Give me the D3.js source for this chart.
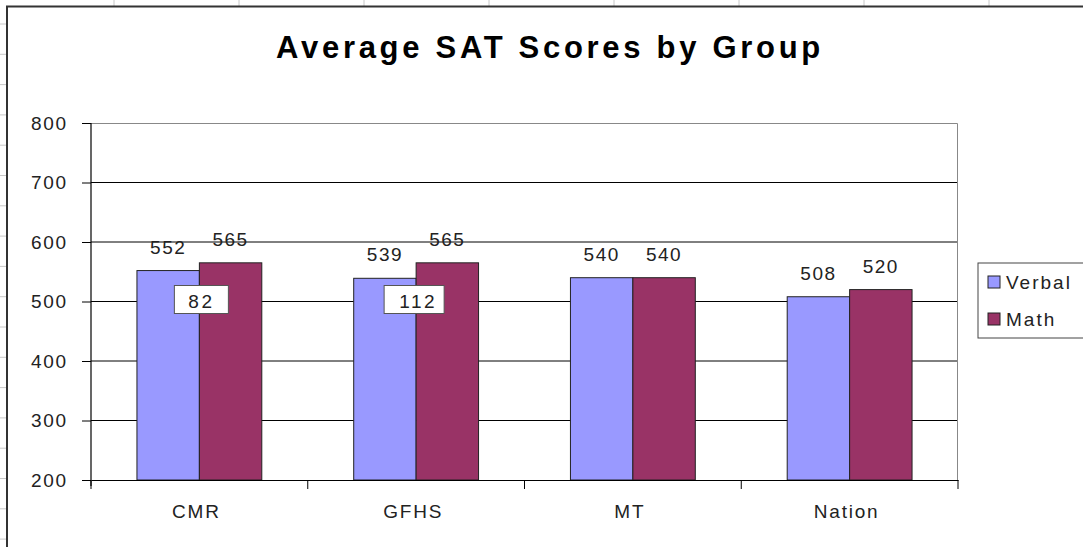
<!DOCTYPE html>
<html>
<head>
<meta charset="utf-8">
<script src="https://cdn.jsdelivr.net/npm/d3@7"></script>
<style>
  body { margin: 0; background: #fff; }
  text { font-family: "Liberation Sans", Arial, sans-serif; }
</style>
</head>
<body>
<div id="chart"></div>
<script>
// data
let groups = ["CMR", "GFHS", "MT", "Nation"];
let series = ["Verbal", "Math"];
let verbal = [552, 539, 540, 508];
let math = [565, 565, 540, 520];
let counts = [82, 112, null, null];   // the little boxed numbers
let yTicks = [200, 300, 400, 500, 600, 700, 800];
let colors = ["#9999ff", "#993366"];

let W = 1083, H = 547;
let margin = {top: 123, left: 91, right: 1083 - 958, bottom: 547 - 480};
let width = W - margin.left - margin.right;
let height = H - margin.top - margin.bottom;

let svg = d3.select("#chart")
    .append("svg")
    .attr("width", W)
    .attr("height", H);

// spreadsheet grid peeking out behind the chart
let bg = svg.append("g");
bg.selectAll(".vcell")
    .data(d3.range(114, W, 125))
    .enter().append("line")
    .attr("x1", d => d).attr("x2", d => d)
    .attr("y1", 0).attr("y2", 7)
    .attr("stroke", "#c8c8c8");
bg.selectAll(".hcell")
    .data(d3.range(24, H, 30.3))
    .enter().append("line")
    .attr("x1", 0).attr("x2", 7)
    .attr("y1", d => d).attr("y2", d => d)
    .attr("stroke", "#c8c8c8");

// chart frame
svg.append("path")
    .attr("d", "M7," + H + "V6.5H" + W)
    .attr("fill", "none")
    .attr("stroke", "#333")
    .attr("stroke-width", 2);

svg.append("text")
    .attr("x", 550)
    .attr("y", 58)
    .attr("text-anchor", "middle")
    .style("font-size", "31px")
    .style("font-weight", "bold")
    .style("letter-spacing", "3.7px")
    .text("Average SAT Scores by Group");

let g = svg.append("g")
    .attr("transform", "translate(" + margin.left + "," + margin.top + ")");

let x0 = d3.scaleBand()
    .domain(groups)
    .range([0, width])
    .paddingInner(0.424)
    .paddingOuter(0.212);
let x1 = d3.scaleBand()
    .domain(series)
    .range([0, x0.bandwidth()]);
let y = d3.scaleLinear()
    .domain([200, 800])
    .range([height, 0]);

// gridlines
g.selectAll(".grid")
    .data(yTicks.slice(1, -1))
    .enter().append("line")
    .attr("x1", 0).attr("x2", width)
    .attr("y1", d => y(d)).attr("y2", d => y(d))
    .attr("stroke", "#000");

// plot border (top and right in gray)
g.append("path")
    .attr("d", "M0,0.5H" + (width - 0.5) + "V" + height)
    .attr("fill", "none")
    .attr("stroke", "#888");

let rows = groups.map((grp, i) => ({group: grp, vals: [verbal[i], math[i]], count: counts[i]}));

let grp = g.selectAll(".grp")
    .data(rows)
    .enter().append("g")
    .attr("transform", d => "translate(" + x0(d.group) + ",0)");

grp.selectAll("rect")
    .data(d => d.vals.map((v, j) => ({key: series[j], v: v, j: j})))
    .enter().append("rect")
    .attr("x", d => x1(d.key))
    .attr("y", d => y(d.v))
    .attr("width", x1.bandwidth())
    .attr("height", d => height - y(d.v))
    .attr("fill", d => colors[d.j])
    .attr("stroke", "#222")
    .attr("stroke-width", 1);

grp.selectAll(".val")
    .data(d => d.vals.map((v, j) => ({key: series[j], v: v})))
    .enter().append("text")
    .attr("x", d => x1(d.key) + x1.bandwidth() / 2)
    .attr("y", d => y(d.v) - 17)
    .attr("text-anchor", "middle")
    .attr("fill", "#222")
    .style("font-size", "19px")
    .style("letter-spacing", "1.5px")
    .text(d => d.v);

// boxed counts
let box = grp.filter(d => d.count != null).append("g")
    .attr("transform", (d, i) => "translate(" + x0.bandwidth() / 2 + "," + y(500) + ")");
box.append("rect")
    .attr("x", (d, i) => i === 0 ? -25 : -32)
    .attr("y", -16)
    .attr("width", (d, i) => i === 0 ? 54 : 60)
    .attr("height", 28)
    .attr("fill", "#fff")
    .attr("stroke", "#555");
box.append("text")
    .attr("x", 2)
    .attr("y", 6)
    .attr("text-anchor", "middle")
    .attr("fill", "#222")
    .style("font-size", "19px")
    .style("letter-spacing", "2.5px")
    .text(d => d.count);

// axes
let yAxis = g.append("g")
    .call(d3.axisLeft(y).tickValues(yTicks).tickSize(9).tickPadding(14));
let xAxis = g.append("g")
    .attr("transform", "translate(0," + height + ")")
    .call(d3.axisBottom(x0.copy().paddingInner(0).paddingOuter(0)).tickSize(0).tickPadding(25));

xAxis.selectAll(".tick line").remove();
xAxis.selectAll(".cat-tick")
    .data(d3.range(groups.length + 1))
    .enter().append("line")
    .attr("x1", d => d * width / groups.length)
    .attr("x2", d => d * width / groups.length)
    .attr("y1", 0).attr("y2", 9)
    .attr("stroke", "#000");

[yAxis, xAxis].forEach(a => {
    a.select(".domain").attr("stroke", "#000").attr("stroke-width", 1.2);
    a.selectAll(".tick line").attr("stroke", "#000");
    a.selectAll("text")
        .attr("fill", "#222")
        .style("font-family", "'Liberation Sans', Arial, sans-serif")
        .style("font-size", "19px")
        .style("letter-spacing", "1.8px");
});
xAxis.selectAll("text").attr("dx", -3);
yAxis.select(".domain").attr("d", "M0,0V" + (height + 6));

// legend
let legend = svg.append("g").attr("transform", "translate(978,263)");
legend.append("rect")
    .attr("width", 120).attr("height", 75)
    .attr("fill", "#fff")
    .attr("stroke", "#444");
let li = legend.selectAll(".li")
    .data(series)
    .enter().append("g")
    .attr("transform", (d, i) => "translate(10," + (13 + i * 37) + ")");
li.append("rect")
    .attr("width", 12).attr("height", 12)
    .attr("fill", (d, i) => colors[i])
    .attr("stroke", "#222");
li.append("text")
    .attr("x", 18).attr("y", 13)
    .attr("fill", "#222")
    .style("font-size", "19px")
    .style("letter-spacing", "2px")
    .text(d => d);
</script>
</body>
</html>
